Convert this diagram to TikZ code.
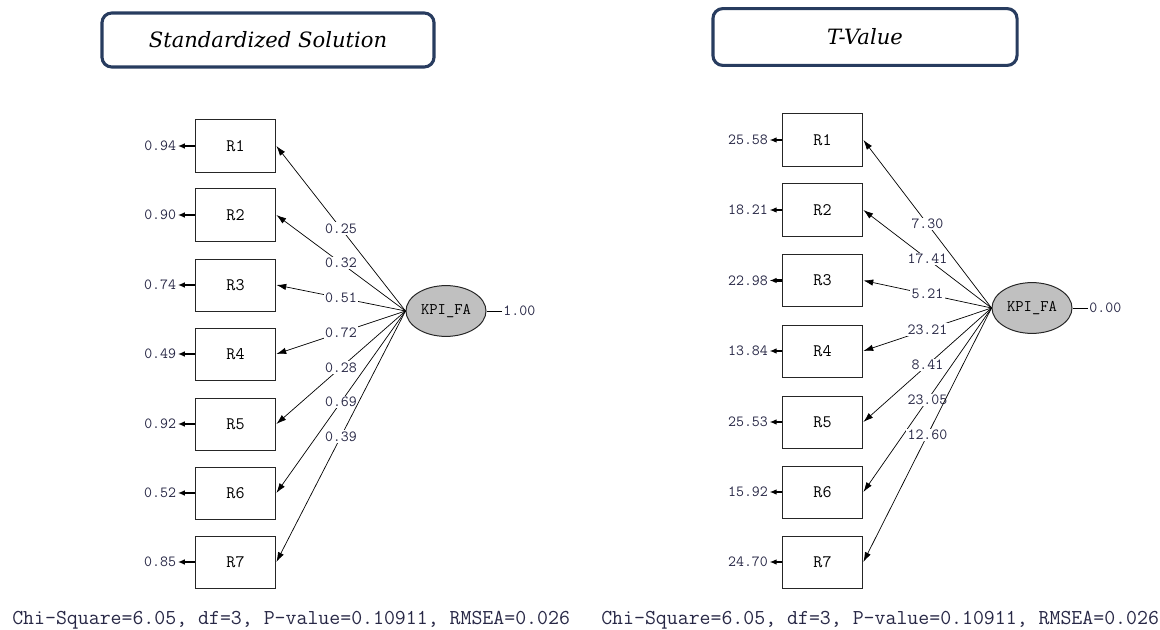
\documentclass[tikz,border=0pt]{standalone}
\usepackage{fontspec}
\setmainfont{DejaVu Serif}
\usetikzlibrary{arrows.meta,shapes.geometric,positioning}

\definecolor{framenavy}{RGB}{40,60,95}
\definecolor{latentgray}{RGB}{192,192,192}
\definecolor{labelink}{RGB}{40,40,70}

\tikzset{
  titlebox/.style={draw=framenavy, line width=2.2pt, rounded corners=7pt,
    font=\itshape\fontsize{15}{18}\selectfont},
  indicator/.style={draw=black!85, line width=0.7pt, minimum width=2.02cm,
    minimum height=1.3cm, inner sep=0pt, font=\ttfamily\fontsize{12.5}{14}\selectfont},
  latent/.style={ellipse, draw=black!85, line width=0.7pt, fill=latentgray,
    minimum width=2cm, minimum height=1.27cm, inner sep=0pt,
    font=\ttfamily\fontsize{11.5}{13}\selectfont},
  numlabel/.style={inner sep=1pt, text=labelink, font=\ttfamily\fontsize{11}{13}\selectfont},
  loadlabel/.style={numlabel, fill=white},
  loadarrow/.style={-{Latex[length=7pt,width=4.5pt]}, line width=0.5pt},
  errarrow/.style={-{Latex[length=5pt,width=4pt]}, line width=1.5pt},
  fitline/.style={font=\ttfamily\fontsize{15.1}{17}\selectfont, text=labelink, inner sep=0pt}
}

\begin{document}
\begin{tikzpicture}[x=0.025cm, y=-0.025cm]
  \useasboundingbox (0,0) rectangle (1160,630);

  % Standardized Solution
  \node[titlebox, minimum width=8.3cm, minimum height=1.35cm] (stitle) at (268,40) {Standardized Solution};
  \node[latent] (sKPI) at (446,311) {KPI\_FA};
  \node[numlabel, right=0.38cm of sKPI] (sfix) {1.00};
  \draw[line width=0.6pt] (sKPI) -- (sfix);
  \foreach \i/\y/\err/\load in {1/146/0.94/0.25, 2/215/0.90/0.32, 3/285/0.74/0.51,
      4/354/0.49/0.72, 5/424/0.92/0.28, 6/493/0.52/0.69, 7/562/0.85/0.39}{
    \node[indicator] (sR\i) at (235.5,\y) {R\i};
    \node[numlabel, left=0.42cm of sR\i] (serr\i) {\err};
    \draw[errarrow] (sR\i) -- (serr\i);
    \draw[loadarrow] (sKPI.west) -- node[loadlabel, pos=0.5] {\load} (sR\i.east);
  }
  \node[fitline, anchor=west] (sfit) at (12,620) {Chi-Square=6.05, df=3, P-value=0.10911, RMSEA=0.026};

  % T-Value
  \node[titlebox, minimum width=7.6cm, minimum height=1.42cm] (ttitle) at (865,37) {T-Value};
  \node[latent] (tKPI) at (1032,308) {KPI\_FA};
  \node[numlabel, right=0.38cm of tKPI] (tfix) {0.00};
  \draw[line width=0.6pt] (tKPI) -- (tfix);
  \foreach \i/\y/\err/\load in {1/140/25.58/7.30, 2/210/18.21/17.41, 3/280.5/22.98/5.21,
      4/351/13.84/23.21, 5/422/25.53/8.41, 6/492/15.92/23.05, 7/562/24.70/12.60}{
    \node[indicator] (tR\i) at (822.5,\y) {R\i};
    \node[numlabel, left=0.3cm of tR\i] (terr\i) {\err};
    \draw[errarrow] (tR\i) -- (terr\i);
    \draw[loadarrow] (tKPI.west) -- node[loadlabel, pos=0.5] {\load} (tR\i.east);
  }
  \node[fitline, anchor=west] (tfit) at (601,620) {Chi-Square=6.05, df=3, P-value=0.10911, RMSEA=0.026};
\end{tikzpicture}
\end{document}
